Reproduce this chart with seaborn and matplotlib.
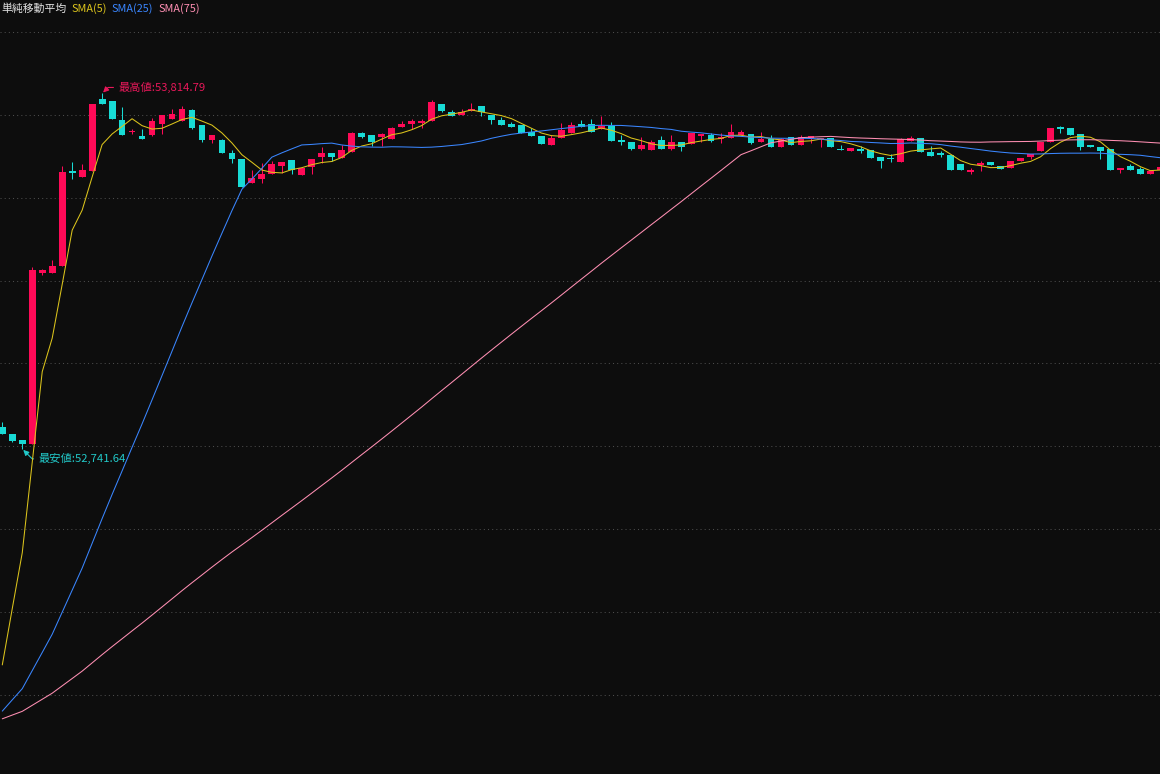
import numpy as np
import pandas as pd
import matplotlib
matplotlib.use("Agg")
import matplotlib.pyplot as plt
import seaborn as sns

OUT_PATH = "out.png"

# OHLC of the visible bars
opens = [
    52807.5, 52786.3, 52768.2, 52757.0, 53273.4, 53272.5, 53293.7, 53581.5, 53563.4, 53581.5,
    53798.0, 53792.0, 53734.6, 53698.4, 53686.3, 53689.3, 53723.4, 53737.6, 53732.5, 53764.8,
    53719.5, 53674.2, 53674.2, 53634.0, 53616.8, 53545.2, 53556.4, 53572.4, 53595.7, 53613.8,
    53568.5, 53593.6, 53622.9, 53634.9, 53620.7, 53638.9, 53695.3, 53688.4, 53683.3, 53677.2,
    53713.5, 53722.5, 53725.5, 53732.5, 53782.9, 53757.9, 53749.7, 53760.9, 53776.9, 53749.7,
    53734.6, 53722.5, 53719.5, 53698.4, 53686.3, 53659.1, 53680.2, 53695.3, 53722.5, 53722.5,
    53707.4, 53716.5, 53674.2, 53668.2, 53647.0, 53644.0, 53674.2, 53647.0, 53668.2, 53662.1,
    53686.3, 53689.3, 53677.2, 53680.2, 53689.3, 53692.3, 53668.2, 53677.2, 53653.1, 53683.3,
    53659.1, 53680.2, 53677.2, 53680.2, 53647.0, 53641.0, 53647.0, 53644.0, 53622.9, 53619.8,
    53607.8, 53671.2, 53680.2, 53638.0, 53634.9, 53628.9, 53601.7, 53577.6, 53598.7, 53607.8,
    53595.7, 53589.6, 53610.8, 53622.9, 53641.0, 53668.2, 53713.5, 53710.4, 53692.3, 53659.1,
    53653.1, 53647.0, 53583.6, 53595.7, 53586.6, 53571.5, 53583.6,
]
highs = [
    52822.6, 52786.3, 52768.2, 53289.8, 53285.5, 53311.8, 53595.7, 53607.8, 53601.7, 53782.9,
    53814.79, 53792.0, 53774.8, 53707.4, 53707.4, 53741.5, 53749.7, 53767.8, 53776.9, 53767.8,
    53719.5, 53689.3, 53678.1, 53644.0, 53616.8, 53584.5, 53604.7, 53610.8, 53607.8, 53613.8,
    53588.7, 53616.8, 53654.0, 53634.9, 53659.1, 53698.4, 53698.4, 53688.4, 53696.2, 53714.4,
    53731.6, 53737.6, 53737.6, 53795.0, 53782.9, 53764.8, 53767.8, 53785.9, 53776.9, 53749.7,
    53743.7, 53728.6, 53719.5, 53710.4, 53686.3, 53689.3, 53725.5, 53728.6, 53734.6, 53737.6,
    53746.7, 53728.6, 53689.3, 53668.2, 53683.3, 53674.2, 53686.3, 53689.3, 53668.2, 53695.3,
    53692.3, 53695.3, 53695.3, 53722.5, 53704.4, 53692.3, 53698.4, 53689.3, 53680.2, 53683.3,
    53689.3, 53686.3, 53680.2, 53680.2, 53659.1, 53650.0, 53656.1, 53644.0, 53622.9, 53631.9,
    53680.2, 53686.3, 53680.2, 53656.1, 53641.0, 53628.9, 53601.7, 53589.6, 53610.8, 53607.8,
    53595.7, 53610.8, 53619.8, 53631.9, 53668.2, 53710.4, 53716.5, 53710.4, 53692.3, 53659.1,
    53653.1, 53647.0, 53589.6, 53601.7, 53592.7, 53580.6, 53592.7,
]
lows = [
    52786.3, 52762.2, 52741.64, 52757.0, 53267.4, 53272.5, 53293.7, 53556.4, 53563.4, 53581.5,
    53782.9, 53737.6, 53689.3, 53693.2, 53678.1, 53686.3, 53691.4, 53737.6, 53732.5, 53706.5,
    53668.2, 53665.1, 53635.8, 53604.7, 53533.2, 53545.2, 53545.2, 53572.4, 53573.6, 53572.4,
    53568.5, 53571.5, 53603.8, 53610.8, 53620.7, 53638.9, 53679.3, 53657.0, 53657.0, 53677.2,
    53713.5, 53707.4, 53711.3, 53732.5, 53758.8, 53747.6, 53749.7, 53760.9, 53746.7, 53722.5,
    53719.5, 53713.5, 53695.3, 53686.3, 53662.1, 53659.1, 53680.2, 53695.3, 53713.5, 53698.4,
    53707.4, 53671.2, 53659.1, 53644.0, 53644.0, 53644.0, 53647.0, 53644.0, 53641.0, 53662.1,
    53668.2, 53668.2, 53665.1, 53680.2, 53689.3, 53662.1, 53668.2, 53653.1, 53653.1, 53659.1,
    53659.1, 53665.1, 53653.1, 53653.1, 53644.0, 53641.0, 53635.0, 53619.8, 53589.6, 53607.8,
    53607.8, 53671.2, 53638.0, 53625.9, 53622.9, 53583.6, 53583.6, 53571.5, 53580.6, 53598.7,
    53586.6, 53589.6, 53610.8, 53616.8, 53641.0, 53668.2, 53695.3, 53689.3, 53644.0, 53653.1,
    53616.8, 53583.6, 53574.5, 53583.6, 53571.5, 53571.5, 53583.6,
]
closes = [
    52787.2, 52766.1, 52757.0, 53281.6, 53281.6, 53293.7, 53577.6, 53575.4, 53583.6, 53782.9,
    53782.9, 53737.6, 53689.3, 53699.9, 53678.1, 53731.6, 53749.7, 53753.6, 53767.8, 53711.3,
    53674.2, 53689.3, 53635.8, 53616.8, 53533.2, 53560.3, 53571.5, 53601.7, 53607.8, 53583.6,
    53588.7, 53616.8, 53634.9, 53622.9, 53644.0, 53695.3, 53683.3, 53669.1, 53692.3, 53710.4,
    53722.5, 53731.6, 53731.6, 53789.0, 53761.8, 53747.6, 53758.8, 53767.8, 53758.8, 53734.6,
    53719.5, 53713.5, 53695.3, 53686.3, 53662.1, 53680.2, 53704.4, 53719.5, 53713.5, 53698.4,
    53716.5, 53671.2, 53668.2, 53647.0, 53659.1, 53668.2, 53647.0, 53668.2, 53653.1, 53695.3,
    53692.3, 53671.2, 53683.3, 53698.4, 53698.4, 53665.1, 53677.2, 53653.1, 53677.2, 53659.1,
    53683.3, 53686.3, 53680.2, 53653.1, 53644.0, 53650.0, 53641.0, 53619.8, 53610.8, 53615.9,
    53677.2, 53680.2, 53638.0, 53625.9, 53628.9, 53583.6, 53583.6, 53583.6, 53604.7, 53598.7,
    53586.6, 53610.8, 53619.8, 53631.9, 53668.2, 53710.4, 53707.4, 53689.3, 53653.1, 53653.1,
    53641.0, 53583.6, 53589.6, 53583.6, 53571.5, 53580.6, 53592.7,
]

# level the averages were carrying before the first visible bar
PRIOR_CLOSE = 51915.0

sma_periods = [5, 25, 75]
sma_labels = ["SMA(5)", "SMA(25)", "SMA(75)"]
legend_title = "単純移動平均"

BG = "#0d0d0d"
UP = "#ff0a57"
DOWN = "#18dbd5"
SMA_COLORS = ["#dcc41c", "#3a86ff", "#ff8fb3"]
GRID = "#4c4c4c"


def main():
    sns.set_theme(style="dark", rc={"axes.facecolor": BG, "figure.facecolor": BG})
    plt.rcParams["font.family"] = ["Noto Sans CJK JP", "DejaVu Sans"]

    df = pd.DataFrame({"open": opens, "high": highs, "low": lows, "close": closes})
    df["idx"] = np.arange(len(df))
    lead = max(sma_periods) - 1
    hist = pd.Series([PRIOR_CLOSE] * lead + closes)
    for n in sma_periods:
        df[f"sma{n}"] = hist.rolling(n).mean().iloc[lead:].to_numpy()

    fig = plt.figure(figsize=(11.6, 7.74), dpi=100)
    ax = fig.add_axes([0, 0, 1, 1])

    up = df["close"] >= df["open"]
    colors = np.where(up, UP, DOWN)
    body_lo = df[["open", "close"]].min(axis=1)
    body_h = (df["close"] - df["open"]).abs().clip(lower=3.5)

    ax.vlines(df["idx"], df["low"], df["high"], colors=colors, lw=0.75, zorder=2)
    ax.bar(df["idx"], body_h, bottom=body_lo, width=0.68, color=colors, linewidth=0, zorder=3)

    for n, col in zip(sma_periods, SMA_COLORS):
        sns.lineplot(x=df["idx"], y=df[f"sma{n}"], color=col, lw=0.75, ax=ax, legend=False, zorder=4)

    ax.set_xlim(-0.23, 115.97)
    ax.set_ylim(51760, 54097)
    ax.set_yticks(np.arange(52000, 54001, 250))
    ax.yaxis.grid(True, color=GRID, linestyle=(0, (1, 3)), linewidth=0.75)
    ax.xaxis.grid(False)
    ax.set_axisbelow(True)
    ax.tick_params(left=False, bottom=False, labelleft=False, labelbottom=False)
    ax.set_xlabel("")
    ax.set_ylabel("")
    for s in ax.spines.values():
        s.set_visible(False)

    # legend line at the top left
    t = ax.annotate(legend_title, xy=(1, 765), xycoords="figure pixels",
                    va="center", ha="left", color="#e4e4e4", fontsize=7.8)
    for lab, col in zip(sma_labels, SMA_COLORS):
        t = ax.annotate(lab, xy=(1, 0.5), xycoords=t, xytext=(5, 0), textcoords="offset pixels",
                        va="center", ha="left", color=col, fontsize=7.8)

    # high / low markers
    hi = int(df["high"].idxmax())
    lo = int(df["low"].idxmin())
    hi_col, lo_col = "#e8185a", "#22c8c8"
    ax.annotate(f"最高値:{df['high'][hi]:,.2f}", xy=(hi, df["high"][hi]), xytext=(16, 6),
                textcoords="offset pixels", va="center", ha="left", color=hi_col, fontsize=8.1,
                arrowprops=dict(arrowstyle="-|>,head_length=0.4,head_width=0.2", color=hi_col, lw=0.8,
                                shrinkA=1, shrinkB=1, mutation_scale=8,
                                connectionstyle="angle,angleA=0,angleB=45,rad=0"))
    ax.annotate(f"最安値:{df['low'][lo]:,.2f}", xy=(lo, df["low"][lo]), xytext=(16, -10),
                textcoords="offset pixels", va="center", ha="left", color=lo_col, fontsize=8.1,
                arrowprops=dict(arrowstyle="-|>,head_length=0.4,head_width=0.2", color=lo_col, lw=0.8,
                                shrinkA=1, shrinkB=1, mutation_scale=8,
                                connectionstyle="angle,angleA=0,angleB=-45,rad=0"))

    fig.savefig(OUT_PATH, dpi=100, facecolor=BG)
    plt.close(fig)


if __name__ == "__main__":
    main()
